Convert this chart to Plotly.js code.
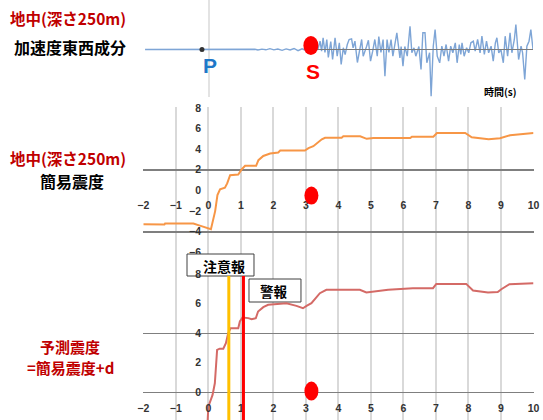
<!DOCTYPE html>
<html><head><meta charset="utf-8">
<script src="https://cdn.plot.ly/plotly-3.0.1.min.js"></script>
<style>html,body{margin:0;padding:0;background:#fff}</style>
</head><body>
<div id="chart" style="width:543px;height:420px"></div>
<script>
// ---------- data ----------
// top panel: east-west acceleration (arbitrary units), time axis of the waveform (s)
const accTime = [0.10,3.53,3.69,3.79,3.92,4.05,4.18,4.31,4.44,4.58,4.71,4.84,4.97,5.10,5.23,5.36,5.49,5.62,5.75,
  5.82,5.87,5.92,5.98,6.04,6.09,6.17,6.23,6.31,6.38,6.45,6.51,6.58,6.64,6.71,6.77,6.85,6.90,6.96,7.04,7.10,7.18,7.23,7.30,7.34,7.40,7.47,7.54,7.61,7.69,7.74,
  7.81,7.88,7.94,8.01,8.07,8.14,8.20,8.27,8.33,8.43,8.47,8.53,8.59,8.67,8.76,8.82,8.89,8.95,9.05,9.12,9.18,9.25,9.31,9.40,9.45,9.52,9.58,9.65,9.73,9.80,9.87,9.94,
  10.02,10.09,10.16,10.24,10.30,10.37,10.42,10.46,10.53,10.61,10.68,10.75,10.83,10.89,10.97,11.05,11.11,11.19,11.26,11.33,11.41,11.48,11.55,11.60,11.66,11.73,11.81,11.87,11.95,
  12.03,12.09,12.17,12.22,12.31,12.39,12.44,12.51,12.58,12.65,12.71,12.78];
const accValue = [0,0,0.3,-0.5,0.4,-0.3,0.8,-0.4,0.5,-0.8,0.6,-0.5,1.0,-1.2,0.7,-1.0,1.3,-1.2,0,
  8.3,-1.7,11.7,-3,10,-8,8,-10,11.7,-6.7,6.7,-15,1.7,-5,5,10,10.7,1.7,8.3,-13,-3,10,-6.7,-1.7,3,9.3,-11.7,-1.7,10,-6.7,13,
  -3,10,-26.7,10,-3,10,-6.7,6.7,16.7,-8.3,3,-16.7,3,-6.7,23.3,-3.3,1.7,-6.7,3,-20,16.7,16.7,-13.3,-3.3,-46.7,3.3,20,-6.7,-13.3,3.3,-6.7,5,
  -11.7,3.3,-3.3,6.7,-13.3,5,-5,6.7,-6.7,1.7,-3.3,6.7,8.3,-1.7,10,-3.3,13.3,-5,8.3,-3.3,3.3,-11.7,6.7,11.7,-3.3,0,-13.3,13.3,-6.7,
  16.7,-3.3,10,25,-10,3.3,-3.3,-30,3.3,8.3,20,0];
const pArrivalTop = 1.96;
const sArrivalTop = 5.52;

// middle panel: simple seismic intensity (簡易震度)
const intensityTime = [-2,-1.35,-1.33,-0.46,-0.26,0,0.08,0.21,0.28,0.36,0.51,0.58,0.67,0.92,1.03,1.13,1.47,1.54,1.69,1.9,2.15,2.21,2.97,3.08,3.23,3.49,3.59,4.1,4.15,4.67,4.87,5.08,6.21,6.26,6.92,7.03,7.9,8.1,8.26,8.62,8.97,9.13,9.28,10];
const intensityValue = [-3.28,-3.3,-3.2,-3.2,-3.4,-3.73,-3.76,-2.0,-0.45,0.1,0.26,0.68,1.48,1.54,2.06,2.38,2.38,2.93,3.34,3.57,3.67,3.86,3.86,4.1,4.28,4.95,5.1,5.1,5.24,5.24,5.0,5.07,5.07,5.2,5.2,5.56,5.56,5.14,5.08,4.95,5.05,5.2,5.35,5.56];

// bottom panel: predicted intensity (予測震度 = 簡易震度 + d)
const predictedTime = [-0.02,0,0.13,0.2,0.27,0.35,0.46,0.54,0.61,0.68,0.92,0.97,1.05,1.23,1.33,1.46,1.53,1.69,1.84,2.4,2.71,2.91,3.02,3.17,3.27,3.43,3.63,4.66,4.86,5.04,5.53,6.29,6.91,7.01,7.93,8.14,8.29,8.6,8.9,9.01,9.26,10];
const predictedValue = [-1.88,-0.97,-0.18,0.61,2.87,2.96,2.96,3.33,4.0,4.34,4.34,4.8,5.07,5.03,4.95,5.02,5.48,5.77,5.93,6.04,5.86,5.7,5.86,6.04,6.3,6.72,6.95,6.95,6.77,6.83,6.95,7.06,7.06,7.35,7.35,6.9,6.85,6.77,6.8,6.99,7.33,7.4];

const sArrival = 3.17;     // S-wave marker time (s)
const cautionTime = 0.63;  // 注意報
const warningTime = 1.08;  // 警報

const xTicks = [-2,-1,0,1,2,3,4,5,6,7,8,9,10];
const midYTicks = [-6,-4,-2,0,2,4,6,8];
const midGrid = [-4,2,8];
const botYTicks = [0,2,4,6,8];
const botGrid = [0,4];

// ---------- layout helpers ----------
const W = 543, H = 420;
const px = v => v / W;
const py = v => 1 - v / H;
const tickFont = {family: 'Liberation Sans, Arial, sans-serif', size: 10.5, color: '#333333', weight: 'bold'};
const jp = 'Noto Sans CJK JP, sans-serif';
const dark = '#c00000';

// bottom panel pixel <-> data helpers for the label boxes
const botTopPx = 253, botZeroPx = 392.3, botUnitPx = 14.75;
const botRange = [-(420 - botZeroPx) / botUnitPx, (botZeroPx - botTopPx) / botUnitPx];
const bx = p => (p - 143.3) / 32.52 - 2;
const by = p => (botZeroPx - p) / botUnitPx;

const traces = [
  {x: accTime, y: accValue, xaxis: 'x', yaxis: 'y', type: 'scatter', mode: 'lines',
   line: {color: '#7ea5d6', width: 1.4}, hoverinfo: 'skip'},
  {x: [pArrivalTop], y: [0], xaxis: 'x', yaxis: 'y', type: 'scatter', mode: 'markers',
   marker: {color: '#333333', size: 5}, hoverinfo: 'skip'},
  {x: intensityTime, y: intensityValue, xaxis: 'x5', yaxis: 'y5', type: 'scatter', mode: 'lines',
   line: {color: '#f79646', width: 2}, hoverinfo: 'skip'},
  {x: predictedTime, y: predictedValue, xaxis: 'x6', yaxis: 'y6', type: 'scatter', mode: 'lines',
   line: {color: '#d46a66', width: 2}, hoverinfo: 'skip'}
];

const midX = [px(143.3), px(533.5)];
const midRange = [-6.2, 8.05];

const layout = {
  width: W, height: H, showlegend: false,
  margin: {l: 0, r: 0, t: 0, b: 0},
  paper_bgcolor: '#ffffff', plot_bgcolor: 'rgba(0,0,0,0)',
  // top waveform
  xaxis: {domain: [px(142), px(533)], range: [0, 12.78], anchor: 'y', showgrid: false, zeroline: false,
          showticklabels: false, showline: false, fixedrange: true},
  yaxis: {domain: [py(100), py(20)], range: [-50.5, 29.5], anchor: 'x', showgrid: false, zeroline: false,
          showticklabels: false, showline: false, fixedrange: true},
  // middle grid axes
  xaxis2: {domain: midX, range: [-2, 10], anchor: 'y2', tickvals: xTicks, showticklabels: false,
           showgrid: true, gridcolor: '#d9d9d9', gridwidth: 2, zeroline: false, showline: false, ticks: ''},
  yaxis2: {domain: [py(254.5), py(107.3)], range: midRange, anchor: 'x2', tickvals: midGrid, showticklabels: false,
           showgrid: true, gridcolor: '#7f7f7f', gridwidth: 1.5, zeroline: false, showline: false, ticks: ''},
  // bottom grid axes
  xaxis3: {domain: midX, range: [-2, 10], anchor: 'y3', tickvals: xTicks, showticklabels: false,
           showgrid: true, gridcolor: '#d9d9d9', gridwidth: 2, zeroline: false, showline: false, ticks: ''},
  yaxis3: {domain: [0, py(botTopPx)], range: botRange, anchor: 'x3', tickvals: botGrid, showticklabels: false,
           showgrid: true, gridcolor: '#7f7f7f', gridwidth: 1.5, zeroline: false, showline: false, ticks: ''},
  // middle label axes
  xaxis5: {overlaying: 'x2', range: [-2, 10], anchor: 'free', position: py(197), tickvals: xTicks,
           showgrid: false, zeroline: false, showline: false, ticks: '', tickfont: tickFont},
  yaxis5: {overlaying: 'y2', range: midRange, anchor: 'free', position: px(201), side: 'left', tickvals: midYTicks,
           showgrid: false, zeroline: false, showline: false, ticks: '', tickfont: tickFont},
  // bottom label axes
  xaxis6: {overlaying: 'x3', range: [-2, 10], anchor: 'free', position: py(400), tickvals: xTicks,
           showgrid: false, zeroline: false, showline: false, ticks: '', tickfont: tickFont},
  yaxis6: {overlaying: 'y3', range: botRange, anchor: 'free', position: px(201), side: 'left', tickvals: botYTicks,
           showgrid: false, zeroline: false, showline: false, ticks: '', tickfont: tickFont},
  shapes: [
    // faint vertical line in the top panel
    {type: 'line', xref: 'paper', yref: 'paper', x0: px(209), x1: px(209), y0: py(97), y1: 1,
     line: {color: '#e3e3e3', width: 2}, layer: 'below'},
    // label boxes (above gridlines, below tick labels)
    {type: 'rect', xref: 'x3', yref: 'y3', x0: bx(187), x1: bx(254), y0: by(276), y1: by(254),
     fillcolor: '#ffffff', line: {color: '#404040', width: 1}, layer: 'between'},
    {type: 'rect', xref: 'x3', yref: 'y3', x0: bx(249), x1: bx(301), y0: by(302), y1: by(279),
     fillcolor: '#ffffff', line: {color: '#404040', width: 1}, layer: 'between'},
    // axis line after S arrival
    {type: 'line', xref: 'x', yref: 'y', x0: sArrivalTop, x1: 12.78, y0: 0, y1: 0,
     line: {color: '#7a7a7a', width: 1.2}, layer: 'above'},
    // S markers
    {type: 'circle', xref: 'x', yref: 'y', xsizemode: 'pixel', ysizemode: 'pixel', xanchor: sArrivalTop, yanchor: 0,
     x0: -7.5, x1: 7.5, y0: -5.5, y1: 13.5, fillcolor: '#ff0000', line: {width: 0}, layer: 'above'},
    {type: 'circle', xref: 'x2', yref: 'y2', xsizemode: 'pixel', ysizemode: 'pixel', xanchor: sArrival, yanchor: -0.5,
     x0: -7, x1: 7, y0: -9, y1: 9, fillcolor: '#ff0000', line: {width: 0}, layer: 'above'},
    {type: 'circle', xref: 'x3', yref: 'y3', xsizemode: 'pixel', ysizemode: 'pixel', xanchor: sArrival, yanchor: 0.08,
     x0: -7, x1: 7, y0: -9.5, y1: 9.5, fillcolor: '#ff0000', line: {width: 0}, layer: 'above'},
    // alert lines
    {type: 'line', xref: 'x3', yref: 'y3', x0: cautionTime, x1: cautionTime, y0: botRange[0], y1: by(276),
     line: {color: '#ffc000', width: 3}, layer: 'above'},
    {type: 'line', xref: 'x3', yref: 'y3', x0: warningTime, x1: warningTime, y0: botRange[0], y1: by(276),
     line: {color: '#ff0000', width: 3}, layer: 'above'}
  ],
  annotations: [
    {text: '地中(深さ250m)', xref: 'paper', yref: 'paper', x: px(68), y: py(18), xanchor: 'center', yanchor: 'middle',
     showarrow: false, font: {family: jp, size: 15.5, color: dark, weight: 'bold'}},
    {text: '加速度東西成分', xref: 'paper', yref: 'paper', x: px(70), y: py(47), xanchor: 'center', yanchor: 'middle',
     showarrow: false, font: {family: jp, size: 16, color: '#000000', weight: 'bold'}},
    {text: '地中(深さ250m)', xref: 'paper', yref: 'paper', x: px(68), y: py(158), xanchor: 'center', yanchor: 'middle',
     showarrow: false, font: {family: jp, size: 15.5, color: dark, weight: 'bold'}},
    {text: '簡易震度', xref: 'paper', yref: 'paper', x: px(72), y: py(181), xanchor: 'center', yanchor: 'middle',
     showarrow: false, font: {family: jp, size: 16, color: '#000000', weight: 'bold'}},
    {text: '予測震度', xref: 'paper', yref: 'paper', x: px(70), y: py(346), xanchor: 'center', yanchor: 'middle',
     showarrow: false, font: {family: jp, size: 15, color: dark, weight: 'bold'}},
    {text: '=簡易震度+d', xref: 'paper', yref: 'paper', x: px(70), y: py(367), xanchor: 'center', yanchor: 'middle',
     showarrow: false, font: {family: jp, size: 15, color: dark, weight: 'bold'}},
    {text: 'P', xref: 'x', yref: 'y', x: pArrivalTop, y: 0, xshift: 8, yshift: -16, xanchor: 'center', yanchor: 'middle',
     showarrow: false, font: {family: 'Liberation Sans, Arial, sans-serif', size: 21, color: '#1f78c8', weight: 'bold'}},
    {text: 'S', xref: 'x', yref: 'y', x: sArrivalTop, y: 0, xshift: 2, yshift: -22, xanchor: 'center', yanchor: 'middle',
     showarrow: false, font: {family: 'Liberation Sans, Arial, sans-serif', size: 21, color: '#ff0000', weight: 'bold'}},
    {text: '時間(s)', xref: 'paper', yref: 'paper', x: px(500), y: py(91), xanchor: 'center', yanchor: 'middle',
     showarrow: false, font: {family: jp, size: 10, color: '#000000', weight: 'bold'}},
    {text: '注意報', xref: 'paper', yref: 'paper', x: px(224), y: py(265.5), xanchor: 'center', yanchor: 'middle',
     showarrow: false, font: {family: jp, size: 14, color: '#000000', weight: 'bold'}},
    {text: '警報', xref: 'paper', yref: 'paper', x: px(274), y: py(291), xanchor: 'center', yanchor: 'middle',
     showarrow: false, font: {family: jp, size: 13.5, color: '#000000', weight: 'bold'}}
  ]
};

Plotly.newPlot('chart', traces, layout, {displayModeBar: false, staticPlot: true});
</script>
</body></html>
